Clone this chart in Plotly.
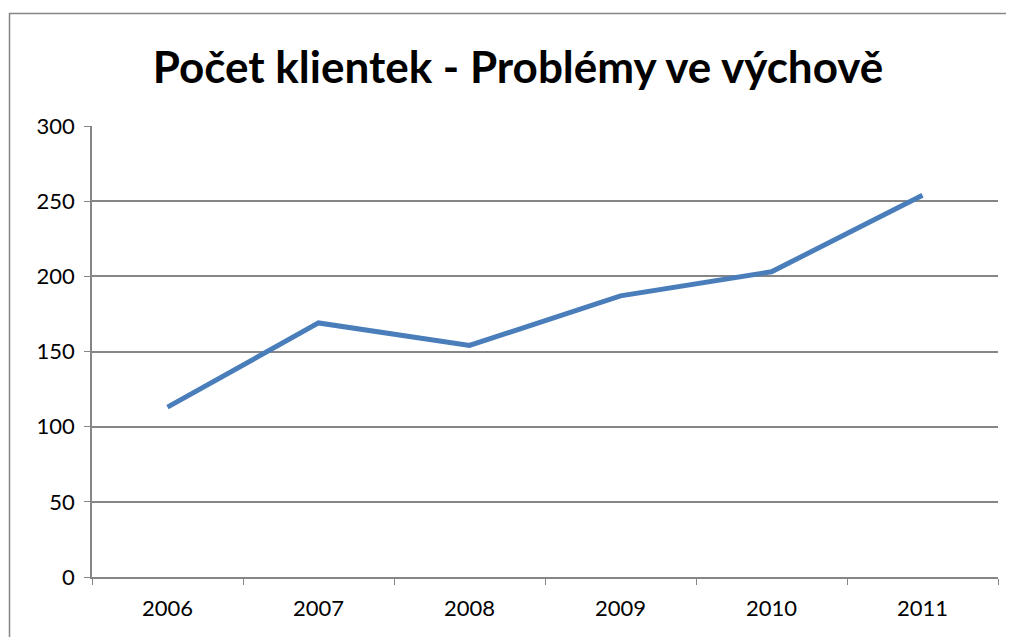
import plotly.graph_objects as go

years = ["2006", "2007", "2008", "2009", "2010", "2011"]
clients = [113, 169, 154, 187, 203, 254]
y_ticks = [0, 50, 100, 150, 200, 250, 300]

W, H = 1014, 637
OFF = 8  # page body offset
L, T = 92 - OFF, 126 - OFF
R = W - (998 - OFF)
B = H - (577 - OFF)
pw, ph = W - L - R, H - T - B

fig = go.Figure()
fig.add_trace(go.Scatter(
    x=years, y=clients, mode="lines",
    line=dict(color="#4A7EBB", width=5),
    showlegend=False,
))

def px_x(p):
    return (p - OFF - L) / pw

def px_y(p):
    return (H - B - (p - OFF)) / ph

fig.add_shape(type="rect", xref="paper", yref="paper",
              x0=px_x(9.5), x1=px_x(1008.5), y0=px_y(680), y1=px_y(13.5),
              line=dict(color="#868686", width=1.5), fillcolor="rgba(0,0,0,0)", layer="below")

fig.update_layout(
    width=W, height=H,
    margin=dict(l=L, r=R, t=T, b=B),
    paper_bgcolor="white", plot_bgcolor="white",
    font=dict(family="Lato, 'Open Sans', sans-serif", color="black", size=22),
    title=dict(text="<b>Počet klientek - Problémy ve výchově</b>",
               x=(518 - OFF) / W, xanchor="center", y=1 - (68 - OFF) / H, yanchor="middle",
               yref="container", xref="container",
               font=dict(size=44, family="Lato, 'Open Sans', sans-serif", color="black")),
    xaxis=dict(type="category", range=[-0.5, 5.5], tickson="boundaries",
               ticks="outside", ticklen=6, tickcolor="#868686", showline=True,
               linecolor="#868686", linewidth=1.5, showgrid=False, zeroline=False,
               tickfont=dict(size=22), ticklabelstandoff=11),
    yaxis=dict(range=[0, 300], tickvals=y_ticks, ticks="outside", ticklen=6,
               tickcolor="#868686", showline=True, linecolor="#868686", linewidth=1.5,
               showgrid=True, gridcolor="#868686", gridwidth=1.5, zeroline=False,
               tickfont=dict(size=22), ticklabelstandoff=5),
)

fig.write_html("out.html")
